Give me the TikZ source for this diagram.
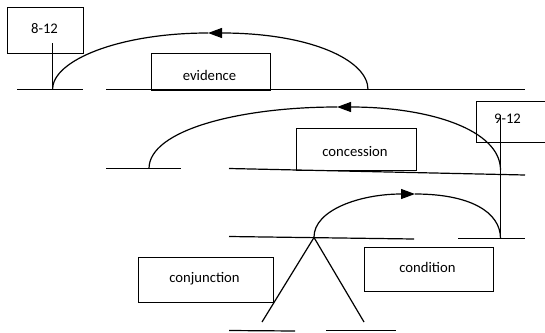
\documentclass[tikz,border=0pt]{standalone}
\usepackage{fontspec}
\setmainfont{Carlito}
\usetikzlibrary{arrows.meta}
\begin{document}
\begin{tikzpicture}[x=1pt,y=-1pt,
  ln/.style={line width=1.2pt},
  box/.style={draw, line width=1.2pt, rectangle, inner sep=0pt, anchor=north west},
  lbl/.style={inner sep=0pt, anchor=base, font=\fontsize{14.67}{17}\selectfont},
  tip/.style={-{Triangle[length=14pt,width=10pt]}}]
\useasboundingbox (0,0) rectangle (545,332);
\clip (0,0) rectangle (545,332);

% relation boxes
\node[box, minimum width=76pt,  minimum height=46pt]   (b812) at (6.5,6.5) {};
\node[lbl] (t812) at (44.5,33) {8-12};
\node[box, minimum width=119pt, minimum height=37pt]   (bevi) at (150.5,52.5) {};
\node[lbl] (tevi) at (209.5,80) {evidence};
\node[box, minimum width=120pt, minimum height=42pt]   (bcon) at (295.5,127.5) {};
\node[lbl] (tcon) at (355,156.5) {concession};
\node[box, minimum width=90pt,  minimum height=41pt]   (b912) at (475.5,100.5) {};
\node[lbl] (t912) at (507.5,123) {9-12};
\node[box, minimum width=135pt, minimum height=45pt]   (bcnj) at (137.5,256.5) {};
\node[lbl] (tcnj) at (204.5,282) {conjunction};
\node[box, minimum width=129pt, minimum height=44pt]   (bcnd) at (363.5,246.5) {};
\node[lbl] (tcnd) at (427.5,272) {condition};

% span end points
\coordinate (r1a) at (17,89.5);   \coordinate (r1b) at (83,89.5);
\coordinate (r1c) at (106,89.5);  \coordinate (r1d) at (525,89.5);
\coordinate (r2a) at (106,168.5); \coordinate (r2b) at (181,168.5);
\coordinate (r2c) at (229,168.5); \coordinate (r2d) at (525,175);
\coordinate (r3a) at (229,236.5); \coordinate (r3b) at (414,239);
\coordinate (r3c) at (458,238.5); \coordinate (r3d) at (525,238.5);
\coordinate (r4a) at (229,330.5); \coordinate (r4b) at (295,331);
\coordinate (r4c) at (326,330.5); \coordinate (r4d) at (396,330.5);

% arc ends and tops
\coordinate (a1l) at (52.5,89.5); \coordinate (a1t) at (208,33);  \coordinate (a1r) at (368,89.5);
\coordinate (a2l) at (149,168.5); \coordinate (a2t) at (337,107); \coordinate (a2r) at (500.5,170);
\coordinate (a3l) at (314,237);   \coordinate (a3t) at (415,194); \coordinate (a3r) at (500.5,238.5);
\coordinate (v1t) at (52.5,43);   \coordinate (v2t) at (500.5,115);
\coordinate (apx) at (314,237.5);
\coordinate (lgl) at (262,322);   \coordinate (lgr) at (364,322);

% spans
\draw[ln] (r1a) -- (r1b);  \draw[ln] (r1c) -- (r1d);
\draw[ln] (r2a) -- (r2b);  \draw[ln] (r2c) -- (r2d);
\draw[ln] (r3a) -- (r3b);  \draw[ln] (r3c) -- (r3d);
\draw[ln] (r4a) -- (r4b);  \draw[ln] (r4c) -- (r4d);

% vertical attachments
\draw[ln] (v1t) -- (a1l);
\draw[ln] (v2t) -- (a3r);

% multinuclear triangle
\draw[ln] (lgl) -- (apx) -- (lgr);

% evidence arc
\draw[ln, tip] (a1r) .. controls (368,60) and (310,33) .. (a1t);
\draw[ln] (a1t) .. controls (120,33) and (52.5,60) .. (a1l);

% concession arc
\draw[ln, tip] (a2r) .. controls (500.5,130) and (430,107) .. (a2t);
\draw[ln] (a2t) .. controls (240,107) and (149,130) .. (a2l);

% condition arc
\draw[ln, tip] (a3l) .. controls (314,210) and (360,194) .. (a3t);
\draw[ln] (a3t) .. controls (470,194) and (500.5,212) .. (a3r);
\end{tikzpicture}
\end{document}
